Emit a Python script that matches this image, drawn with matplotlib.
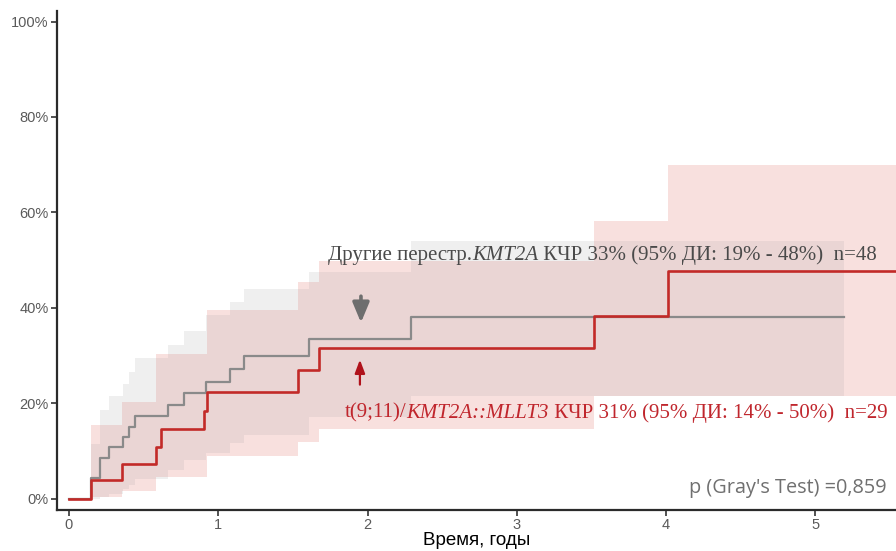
import matplotlib
matplotlib.use("Agg")
import matplotlib.pyplot as plt

# cumulative incidence, %
gray_t = [0, 0.145, 0.207, 0.271, 0.363, 0.404, 0.445, 0.664, 0.770, 0.921, 1.077, 1.172, 1.607, 2.292, 5.19]
gray_v = [0, 4.3, 8.6, 10.8, 12.9, 15.0, 17.3, 19.7, 22.1, 24.5, 27.2, 29.9, 33.4, 38.0, 38.0]
gray_lo = [0, 0, 0.3, 1.0, 2.0, 2.8, 4.0, 6.0, 8.0, 9.5, 11.6, 13.3, 17.1, 21.6, 21.6]
gray_hi = [0, 11.5, 18.5, 21.4, 24.1, 26.5, 29.4, 32.1, 35.2, 38.5, 41.1, 44.0, 47.5, 53.9, 53.9]

red_t = [0, 0.145, 0.353, 0.583, 0.616, 0.904, 0.922, 1.536, 1.674, 3.516, 4.014, 5.54]
red_v = [0, 3.8, 7.2, 10.9, 14.6, 18.3, 22.3, 26.9, 31.5, 38.2, 47.6, 47.6]
red_lo = [0, 0.4, 1.5, 4.5, 4.5, 4.5, 8.9, 11.9, 14.6, 21.6, 21.6, 21.6]
red_hi = [0, 15.5, 20.3, 30.4, 30.4, 30.4, 39.5, 45.5, 49.7, 58.2, 69.9, 69.9]

x_ticks = [0, 1, 2, 3, 4, 5]
y_ticks = [0, 20, 40, 60, 80, 100]

GRAY = "#8a8a8a"
RED = "#c22a28"

fig = plt.figure(figsize=(8.96, 5.51), dpi=100)
ax = fig.add_axes([0.0633, 0.0744, 0.9367, 0.9056])

ax.fill_between(red_t, red_lo, red_hi, step="post", color="#f8e0de", lw=0)
ax.fill_between(gray_t, gray_lo, gray_hi, step="post", color="#a1a1a1", alpha=0.16, lw=0)
ax.step(gray_t, gray_v, where="post", color=GRAY, lw=1.6)
ax.step(red_t, red_v, where="post", color=RED, lw=1.9)

ax.set_xlim(-0.082, 5.54)
ax.set_ylim(-2.4, 102.2)
ax.set_xticks(x_ticks)
ax.set_yticks(y_ticks)
ax.set_yticklabels([f"{v}%" for v in y_ticks])
ax.tick_params(direction="out", length=4, width=1.2, color="#333333",
               labelcolor="#5a5a5a", labelsize=10.5, pad=2)
for lab in ax.get_xticklabels() + ax.get_yticklabels():
    lab.set_family("Liberation Sans")
for side in ["top", "right"]:
    ax.spines[side].set_visible(False)
for side in ["left", "bottom"]:
    ax.spines[side].set_linewidth(1.6)
    ax.spines[side].set_color("#2b2b2b")
ax.set_xlabel("Время, годы", fontsize=13.5, family="Liberation Sans", labelpad=0)


def rich_text(x, y, parts, color, size):
    # pieces chained one after the other, some of them italic
    prev = None
    for s, style in parts:
        if prev is None:
            prev = ax.text(x, y, s, color=color, fontsize=size, style=style,
                           family="Liberation Serif", va="center", ha="left")
        else:
            prev = ax.annotate(s, xy=(1, 0), xycoords=prev, va="bottom", ha="left",
                               color=color, fontsize=size, style=style,
                               family="Liberation Serif")


rich_text(1.735, 51.0, [("Другие перестр.", "normal"), ("KMT2A", "italic"),
                        (" КЧР 33% (95% ДИ: 19% - 48%)  n=48", "normal")],
          "#4a4a4a", 15)
rich_text(1.849, 17.9, [("t(9;11)/", "normal"), ("KMT2A::MLLT3", "italic"),
                        (" КЧР 31% (95% ДИ: 14% - 50%)  n=29", "normal")],
          "#c0262d", 15)

ax.annotate("", xy=(1.956, 36.3), xytext=(1.956, 43.0),
            arrowprops=dict(arrowstyle="-|>,head_width=0.5,head_length=1.2",
                            color="#6e6e6e", lw=2.6))
ax.annotate("", xy=(1.949, 29.7), xytext=(1.949, 23.3),
            arrowprops=dict(arrowstyle="-|>,head_width=0.3,head_length=0.8",
                            color="#b0121b", lw=1.6))

ax.text(5.476, 2.2, "p (Gray's Test) =0,859", ha="right", va="center",
        fontsize=14.3, family="Open Sans", color="#707070")

fig.savefig("out.png", dpi=100)
